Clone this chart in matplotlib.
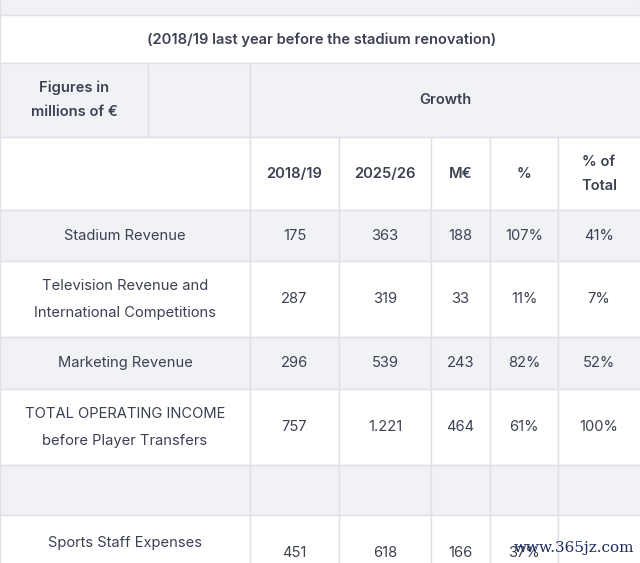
import matplotlib
matplotlib.use("Agg")
import matplotlib.pyplot as plt
from matplotlib.patches import Rectangle

plt.rcParams['font.family'] = ['Inter', 'DejaVu Sans']

## table contents
title = "(2018/19 last year before the stadium renovation)"
corner = ["Figures in", "millions of €"]
group_header = "Growth"
col_headers = ["2018/19", "2025/26", "M€", "%", "% of\nTotal"]
row_labels = ["Stadium Revenue",
              "Television Revenue and\nInternational Competitions",
              "Marketing Revenue",
              "TOTAL OPERATING INCOME\nbefore Player Transfers",
              "",
              "Sports Staff Expenses\n(Personnel and amortization)"]
val_1819 = ["175", "287", "296", "757", "", "451"]
val_2526 = ["363", "319", "539", "1.221", "", "618"]
growth_m = ["188", "33", "243", "464", "", "166"]
growth_pct = ["107%", "11%", "82%", "61%", "", "37%"]
share_total = ["41%", "7%", "52%", "100%", "", ""]
watermark = "www.365jz.com"

## layout in pixels
W, H = 640, 563
col_edges = [0, 250, 339, 431, 490, 558, 640]
row_tops = [210, 261, 337, 389, 465, 515]
row_bots = [261, 337, 389, 465, 515, 620]
row_fill = ['#f1f2f6', 'white', '#f1f2f6', 'white', '#f1f2f6', 'white']
gray = '#f1f2f6'
line = '#dfe0e8'
txt = '#3c4152'

fig = plt.figure(figsize=(6.4, 5.63), dpi=100)
ax = fig.add_axes([0, 0, 1, 1])
ax.set_xlim(0, W)
ax.set_ylim(H, 0)
ax.axis('off')

def cell(x0, y0, x1, y1, fc):
    ax.add_patch(Rectangle((x0, y0), x1 - x0, y1 - y0, facecolor=fc,
                           edgecolor=line, linewidth=1))

def put(x, y, s, bold=False, gap=26):
    lines = s.split("\n")
    for i, t in enumerate(lines):
        yy = y + (i - (len(lines) - 1) / 2) * gap
        ax.text(x, yy, t, ha='center', va='center', fontsize=10.6,
                color=txt, fontweight='semibold' if bold else 'normal')

## top strip and title row
cell(0, -5, W, 15, gray)
cell(0, 15, W + 5, 63, 'white')
put(322, 40, title, bold=True)

## header row
cell(0, 63, 148, 137, gray)
cell(148, 63, 250, 137, gray)
cell(250, 63, W + 5, 137, gray)
put(74, 100, "\n".join(corner), bold=True, gap=24)
put(445, 100, group_header, bold=True)

## column headers
cell(0, 137, 250, 210, 'white')
for j, h in enumerate(col_headers):
    x0, x1 = col_edges[j + 1], col_edges[j + 2]
    cell(x0, 137, x1 + (5 if j == 4 else 0), 210, 'white')
    put((x0 + x1) / 2, 174, h, bold=True, gap=25)

## body rows
cols = [val_1819, val_2526, growth_m, growth_pct, share_total]
for i, lab in enumerate(row_labels):
    y0, y1 = row_tops[i], row_bots[i]
    cell(0, y0, 250, y1, row_fill[i])
    for j, c in enumerate(cols):
        x0, x1 = col_edges[j + 1], col_edges[j + 2]
        cell(x0, y0, x1 + (5 if j == 4 else 0), y1, row_fill[i])
    yc = (y0 + y1) / 2 if i < 5 else 553
    ylab = yc if i < 5 else 556
    put(125, ylab, lab, gap=27)
    for j, c in enumerate(cols):
        put((col_edges[j + 1] + col_edges[j + 2]) / 2, yc, c[i])

ax.text(574, 548, watermark, ha='center', va='center', fontsize=11,
        color='#1c2b5e', family=['DejaVu Serif'])

fig.savefig("out.png", dpi=100)
